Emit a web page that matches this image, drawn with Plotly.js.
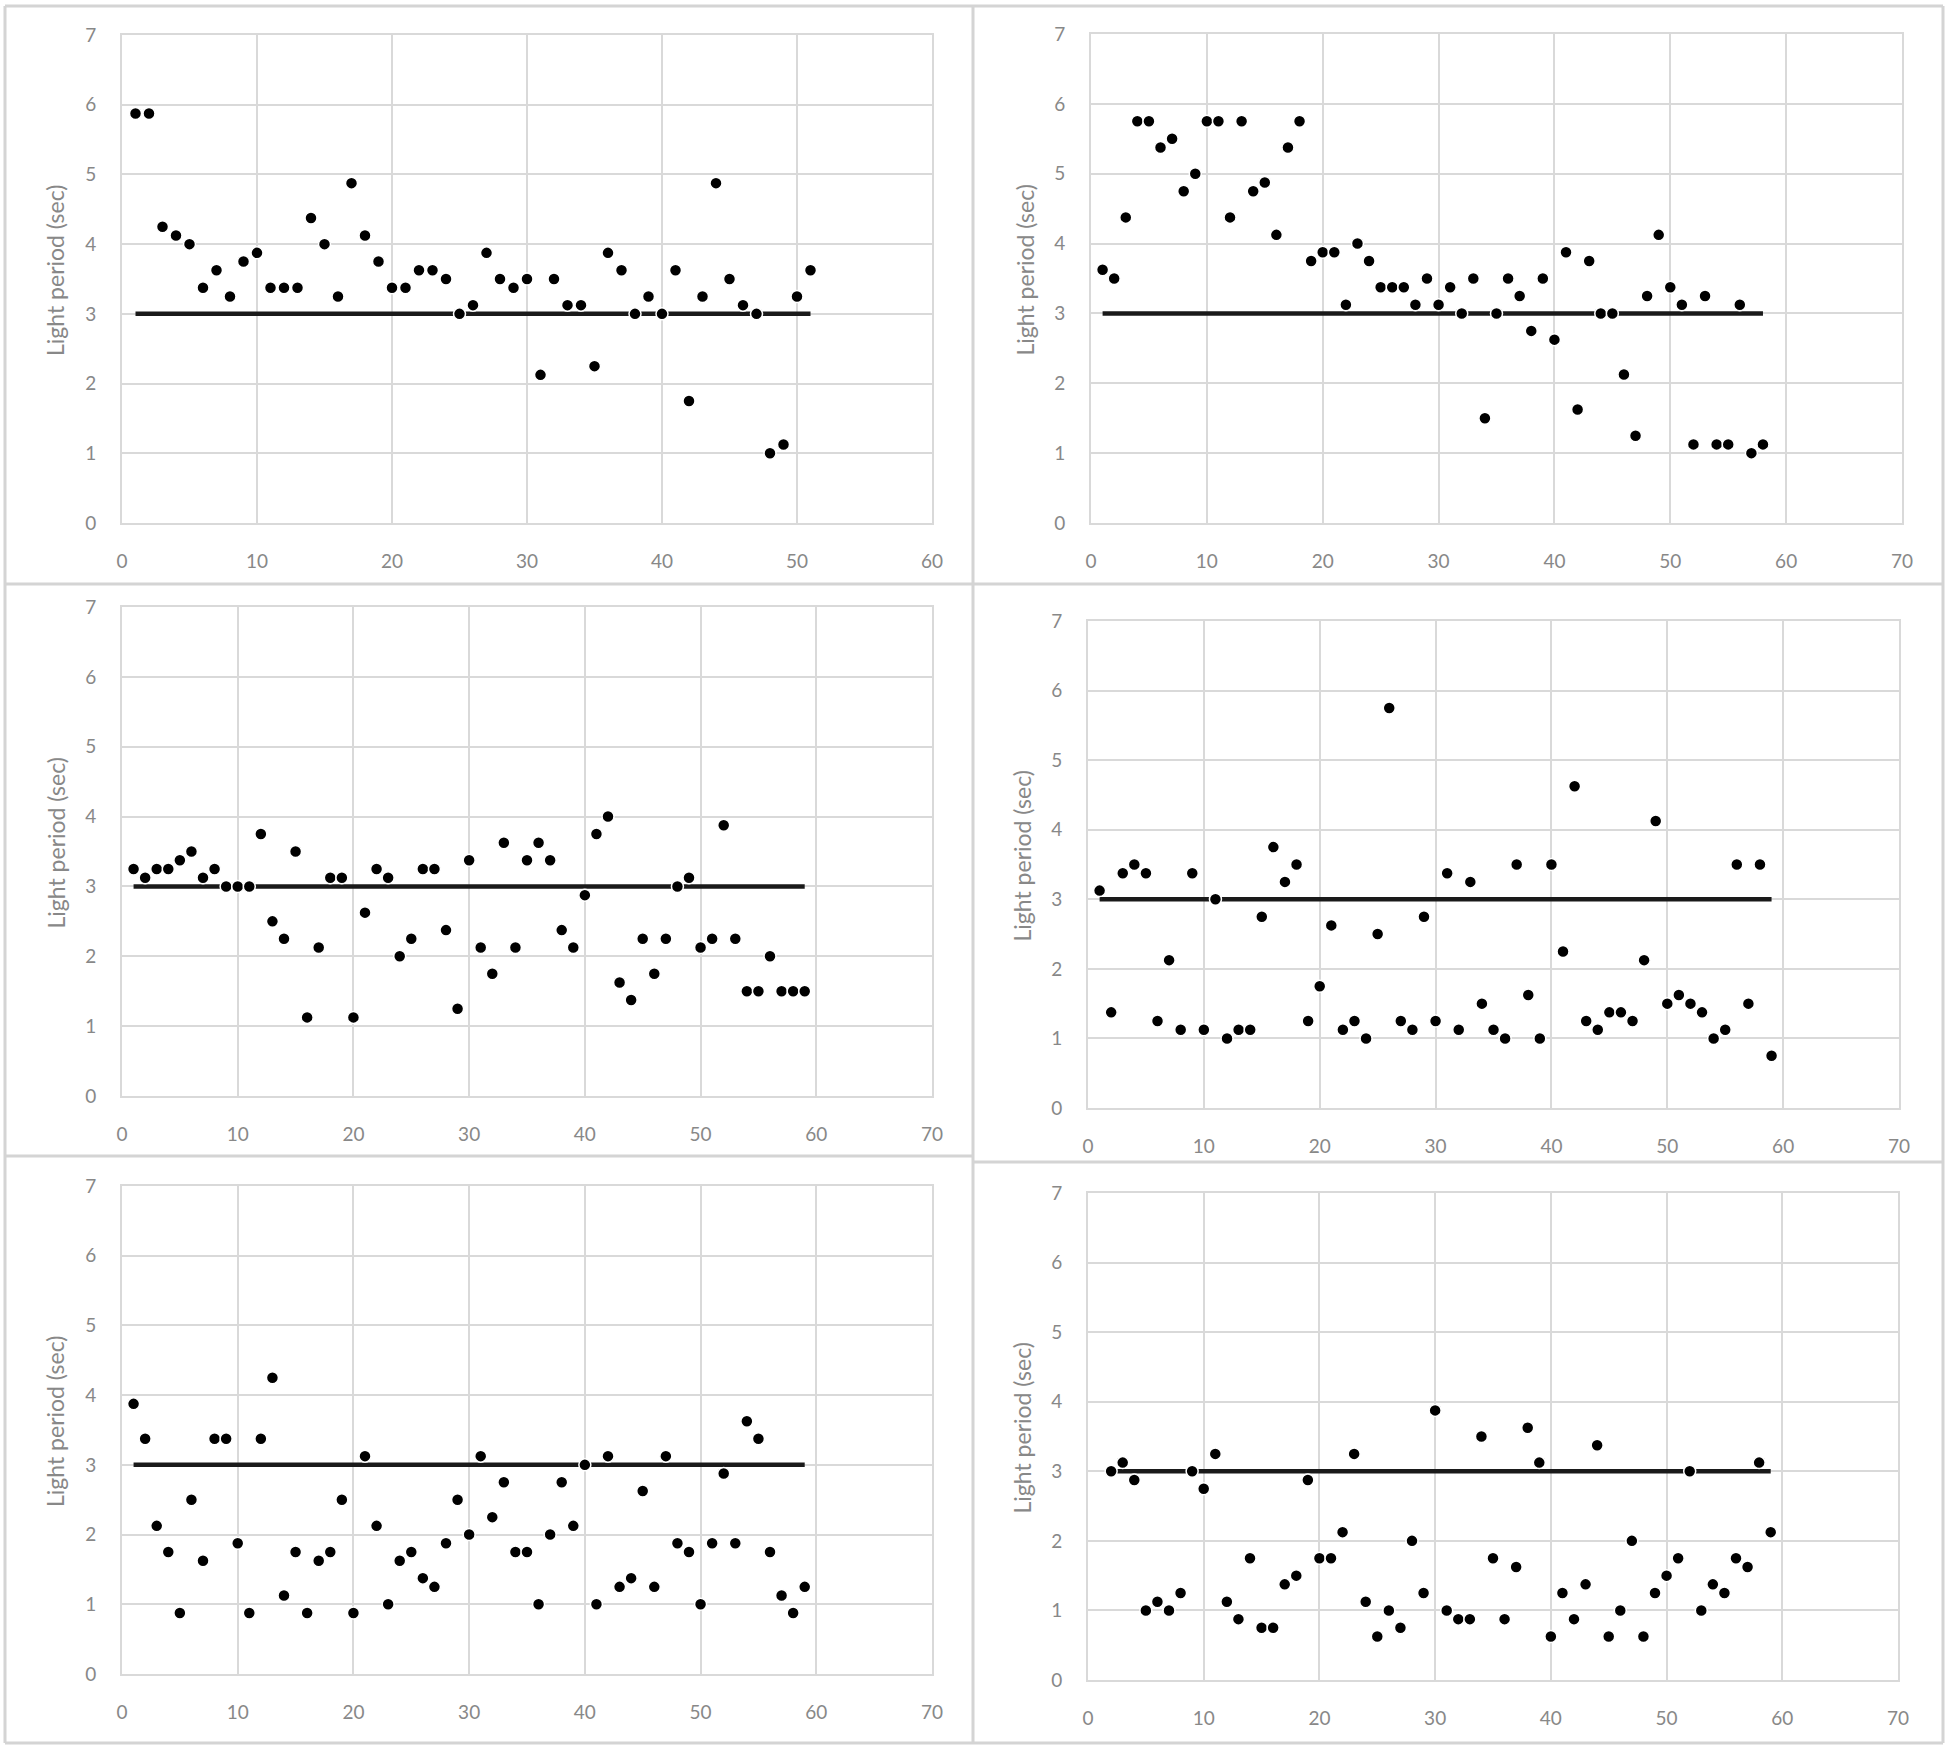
<!DOCTYPE html>
<html>
<head>
<meta charset="utf-8">
<script src="https://cdn.plot.ly/plotly-3.0.1.min.js"></script>
<style>
  body { margin: 0; background: #fff; }
  #chart { width: 1950px; height: 1750px; }
</style>
</head>
<body>
<div id="chart"></div>
<script>
// light period per trial, one array per panel
var panel1 = [5.875, 5.875, 4.25, 4.125, 4, 3.375, 3.625, 3.25, 3.75, 3.875,
  3.375, 3.375, 3.375, 4.375, 4, 3.25, 4.875, 4.125, 3.75, 3.375,
  3.375, 3.625, 3.625, 3.5, 3, 3.125, 3.875, 3.5, 3.375, 3.5,
  2.125, 3.5, 3.125, 3.125, 2.25, 3.875, 3.625, 3, 3.25, 3,
  3.625, 1.75, 3.25, 4.875, 3.5, 3.125, 3, 1, 1.125, 3.25, 3.625];
var panel2 = [3.625, 3.5, 4.375, 5.75, 5.75, 5.375, 5.5, 4.75, 5, 5.75,
  5.75, 4.375, 5.75, 4.75, 4.875, 4.125, 5.375, 5.75, 3.75, 3.875,
  3.875, 3.125, 4, 3.75, 3.375, 3.375, 3.375, 3.125, 3.5, 3.125,
  3.375, 3, 3.5, 1.5, 3, 3.5, 3.25, 2.75, 3.5, 2.625,
  3.875, 1.625, 3.75, 3, 3, 2.125, 1.25, 3.25, 4.125, 3.375,
  3.125, 1.125, 3.25, 1.125, 1.125, 3.125, 1, 1.125];
var panel3 = [3.25, 3.125, 3.25, 3.25, 3.375, 3.5, 3.125, 3.25, 3, 3,
  3, 3.75, 2.5, 2.25, 3.5, 1.125, 2.125, 3.125, 3.125, 1.125,
  2.625, 3.25, 3.125, 2, 2.25, 3.25, 3.25, 2.375, 1.25, 3.375,
  2.125, 1.75, 3.625, 2.125, 3.375, 3.625, 3.375, 2.375, 2.125, 2.875,
  3.75, 4, 1.625, 1.375, 2.25, 1.75, 2.25, 3, 3.125, 2.125,
  2.25, 3.875, 2.25, 1.5, 1.5, 2, 1.5, 1.5, 1.5];
var panel4 = [3.125, 1.375, 3.375, 3.5, 3.375, 1.25, 2.125, 1.125, 3.375, 1.125,
  3, 1, 1.125, 1.125, 2.75, 3.75, 3.25, 3.5, 1.25, 1.75,
  2.625, 1.125, 1.25, 1, 2.5, 5.75, 1.25, 1.125, 2.75, 1.25,
  3.375, 1.125, 3.25, 1.5, 1.125, 1, 3.5, 1.625, 1, 3.5,
  2.25, 4.625, 1.25, 1.125, 1.375, 1.375, 1.25, 2.125, 4.125, 1.5,
  1.625, 1.5, 1.375, 1, 1.125, 3.5, 1.5, 3.5, 0.75];
var panel5 = [3.875, 3.375, 2.125, 1.75, 0.875, 2.5, 1.625, 3.375, 3.375, 1.875,
  0.875, 3.375, 4.25, 1.125, 1.75, 0.875, 1.625, 1.75, 2.5, 0.875,
  3.125, 2.125, 1, 1.625, 1.75, 1.375, 1.25, 1.875, 2.5, 2,
  3.125, 2.25, 2.75, 1.75, 1.75, 1, 2, 2.75, 2.125, 3,
  1, 3.125, 1.25, 1.375, 2.625, 1.25, 3.125, 1.875, 1.75, 1,
  1.875, 2.875, 1.875, 3.625, 3.375, 1.75, 1.125, 0.875, 1.25];
// panel 6 starts at trial 2
var panel6 = [3, 3.125, 2.875, 1, 1.125, 1, 1.25, 3, 2.75,
  3.25, 1.125, 0.875, 1.75, 0.75, 0.75, 1.375, 1.5, 2.875, 1.75,
  1.75, 2.125, 3.25, 1.125, 0.625, 1, 0.75, 2, 1.25, 3.875,
  1, 0.875, 0.875, 3.5, 1.75, 0.875, 1.625, 3.625, 3.125, 0.625,
  1.25, 0.875, 1.375, 3.375, 0.625, 1, 2, 0.625, 1.25, 1.5,
  1.75, 3, 1, 1.375, 1.25, 1.75, 1.625, 3.125, 2.125];

var series = [panel1, panel2, panel3, panel4, panel5, panel6];
var firstTrial = [1, 1, 1, 1, 1, 2];
var xMax = [60, 70, 70, 70, 70, 70];
var reference = 3;   // the horizontal line
var yTitle = 'Light period (sec)';

// plot area boxes in px: [left, right, top, bottom]
var W = 1950, H = 1750;
var boxes = [
  [122, 932, 35, 523],
  [1091, 1902, 34, 523],
  [122, 932, 607, 1096],
  [1088, 1899, 621, 1108],
  [122, 932, 1186, 1674],
  [1088, 1898, 1193, 1680]
];

var grey = '#888888';
var gridc = '#d9d9d9';
var data = [];
var layout = {
  width: W, height: H,
  margin: {l: 0, r: 0, t: 0, b: 0},
  paper_bgcolor: '#fff', plot_bgcolor: '#fff',
  showlegend: false,
  shapes: [], annotations: []
};

series.forEach(function (ys, i) {
  var n = i + 1;
  var sfx = n === 1 ? '' : String(n);
  var xs = ys.map(function (v, k) { return firstTrial[i] + k; });
  var lastX = xs[xs.length - 1];

  data.push({
    x: [xs[0], lastX], y: [reference, reference],
    xaxis: 'x' + sfx, yaxis: 'y' + sfx,
    mode: 'lines', type: 'scatter',
    line: {color: '#1a1a1a', width: 4.5},
    hoverinfo: 'skip'
  });
  data.push({
    x: xs, y: ys,
    xaxis: 'x' + sfx, yaxis: 'y' + sfx,
    mode: 'markers', type: 'scatter',
    marker: {color: '#000', size: 12, line: {color: '#fff', width: 1.5}}
  });

  var b = boxes[i];
  var tickfont = {family: 'Lato, "Open Sans", sans-serif', size: 19, color: grey};
  layout['xaxis' + sfx] = {
    domain: [b[0] / W, b[1] / W], anchor: 'y' + sfx,
    range: [0, xMax[i]], tick0: 0, dtick: 10,
    showgrid: true, gridcolor: gridc, gridwidth: 2,
    zeroline: false, showline: true, linecolor: gridc, linewidth: 2, mirror: true,
    ticks: '', tickfont: tickfont, ticklabelstandoff: 20
  };
  layout['yaxis' + sfx] = {
    domain: [1 - b[3] / H, 1 - b[2] / H], anchor: 'x' + sfx,
    range: [0, 7], tick0: 0, dtick: 1,
    showgrid: true, gridcolor: gridc, gridwidth: 2,
    zeroline: false, showline: true, linecolor: gridc, linewidth: 2, mirror: true,
    ticks: '', tickfont: tickfont, ticklabelstandoff: 20
  };
  layout.annotations.push({
    xref: 'paper', yref: 'paper',
    x: (b[0] - 67) / W, y: 1 - ((b[2] + b[3]) / 2 - 8) / H,
    text: yTitle, textangle: -90, showarrow: false,
    xanchor: 'center', yanchor: 'middle',
    font: {family: 'Lato, "Open Sans", sans-serif', size: 23, color: grey}
  });
});

// panel frames
function hline(py, x0, x1) {
  return {type: 'line', xref: 'paper', yref: 'paper',
    x0: x0 / W, x1: x1 / W, y0: 1 - py / H, y1: 1 - py / H,
    line: {color: '#d4d4d4', width: 3}};
}
function vline(px, y0, y1) {
  return {type: 'line', xref: 'paper', yref: 'paper',
    x0: px / W, x1: px / W, y0: 1 - y0 / H, y1: 1 - y1 / H,
    line: {color: '#d4d4d4', width: 3}};
}
layout.shapes.push(hline(6, 5, 1943), hline(1743, 5, 1943),
  vline(5, 6, 1743), vline(1943, 6, 1743), vline(973, 6, 1743),
  hline(584, 5, 1943), hline(1156, 5, 973), hline(1162, 973, 1943));

Plotly.newPlot('chart', data, layout, {staticPlot: true});
</script>
</body>
</html>
